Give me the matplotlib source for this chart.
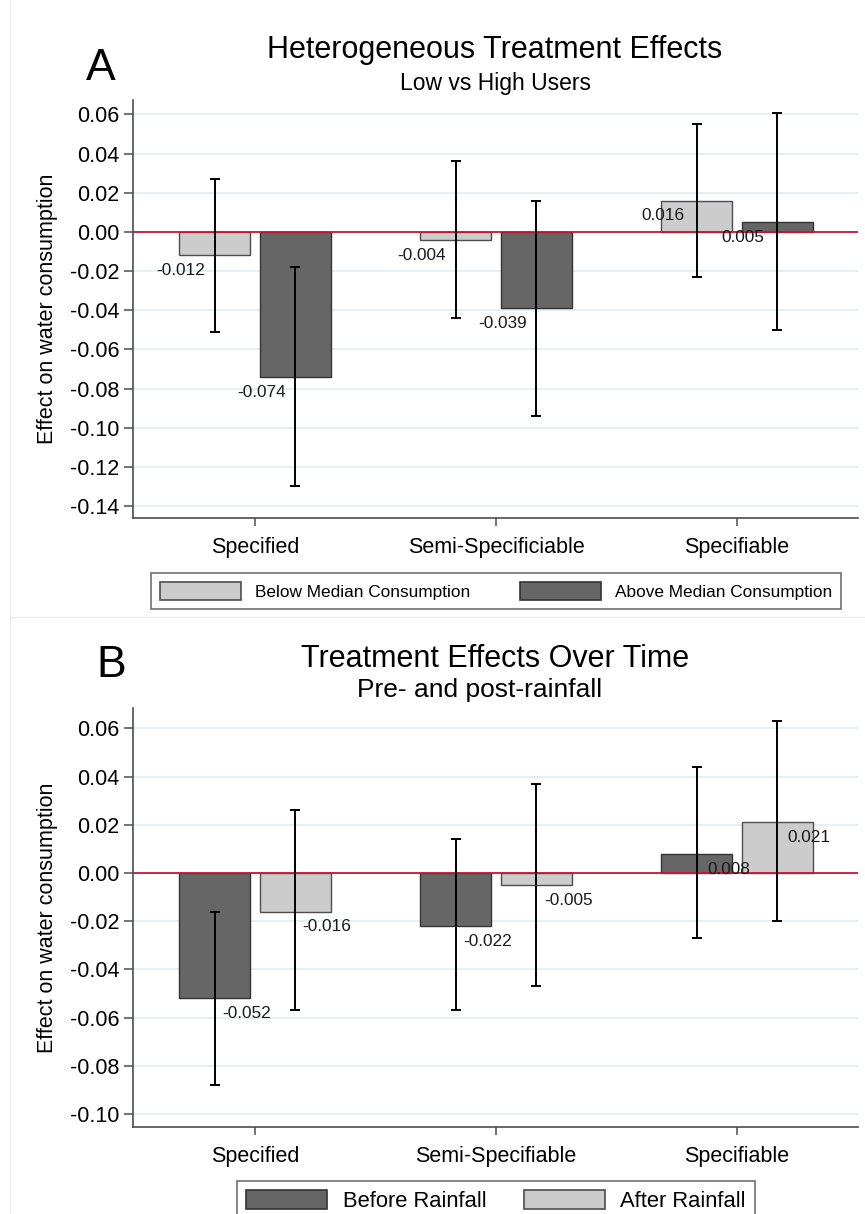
import numpy as np
import matplotlib
matplotlib.use('Agg')
import matplotlib.pyplot as plt
from matplotlib.lines import Line2D

plt.rcParams['font.family'] = ['Liberation Sans', 'DejaVu Sans']

# Panel A data: low vs high users
cats_a = ['Specified', 'Semi-Specificiable', 'Specifiable']
below_median = [-0.012, -0.004, 0.016]
below_lo = [-0.051, -0.044, -0.023]
below_hi = [0.027, 0.036, 0.055]
above_median = [-0.074, -0.039, 0.005]
above_lo = [-0.130, -0.094, -0.050]
above_hi = [-0.018, 0.016, 0.061]

# Panel B data: pre/post rainfall
cats_b = ['Specified', 'Semi-Specifiable', 'Specifiable']
before_rain = [-0.052, -0.022, 0.008]
before_lo = [-0.088, -0.057, -0.027]
before_hi = [-0.016, 0.014, 0.044]
after_rain = [-0.016, -0.005, 0.021]
after_lo = [-0.057, -0.047, -0.020]
after_hi = [0.026, 0.037, 0.063]

LIGHT, LIGHT_EDGE = '#cccccc', '#4d4d4d'
DARK, DARK_EDGE = '#666666', '#333333'
W, H = 865, 1214


def fx(px):
    return px / W


def fy(py):
    return 1 - py / H


fig = plt.figure(figsize=(W / 100, H / 100), dpi=100)

# faint graph-region borders (Stata style)
for seg in [([fx(10), fx(10)], [0, 1]), ([fx(10), 1], [fy(617), fy(617)])]:
    fig.add_artist(Line2D(seg[0], seg[1], color='#ececec', lw=1, transform=fig.transFigure))

axA = fig.add_axes([fx(133), fy(518), 725 / W, 418 / H])
axB = fig.add_axes([fx(133), fy(1127), 725 / W, 419 / H])


def draw_panel(ax, cats, v1, lo1, hi1, v2, lo2, hi2, c1, c2, ylim, yticks, lab_dx):
    x = np.arange(len(cats))
    off, w = 0.167, 0.295
    for xs, v, lo, hi, (fc, ec) in [(x - off, v1, lo1, hi1, c1), (x + off, v2, lo2, hi2, c2)]:
        v = np.array(v)
        ax.bar(xs, v, width=w, color=fc, edgecolor=ec, linewidth=1.0, zorder=2)
        ax.errorbar(xs, v, yerr=[v - np.array(lo), np.array(hi) - v], fmt='none',
                    ecolor='black', elinewidth=1.4, capsize=3.4, capthick=1.4, zorder=4)
        for xi, vi in zip(xs, v):
            ax.annotate(f'{vi:.3f}', xy=(xi, vi), xytext=(lab_dx, -11), textcoords='offset points',
                        ha='center', va='center', fontsize=12.4, color='#1a1a1a', zorder=5)
    ax.axhline(0, color='#c8143c', lw=1.3, zorder=3)
    ax.set_xlim(-0.506, 2.502)
    ax.set_ylim(*ylim)
    ax.set_yticks(yticks)
    ax.set_yticklabels([f'{t:.2f}' for t in yticks])
    ax.set_xticks(x)
    ax.set_xticklabels(cats)
    ax.grid(axis='y', color='#e6eef1', lw=1.3, zorder=0)
    ax.set_axisbelow(True)
    for s in ['top', 'right']:
        ax.spines[s].set_visible(False)
    for s in ['left', 'bottom']:
        ax.spines[s].set_color('#4d4d4d')
        ax.spines[s].set_linewidth(1.2)
    ax.tick_params(axis='y', direction='out', length=6.5, width=1.1, color='#4d4d4d',
                   labelsize=15.5, pad=3.5)
    ax.tick_params(axis='x', direction='out', length=6, width=1.1, color='#4d4d4d',
                   labelsize=15.5, pad=8)
    ax.set_ylabel('Effect on water consumption', fontsize=15.5)
    ax.yaxis.set_label_coords(-0.104, 0.5)


yt_a = np.round(np.arange(-0.14, 0.0601, 0.02), 2) + 0.0
draw_panel(axA, cats_a, below_median, below_lo, below_hi, above_median, above_lo, above_hi,
           (LIGHT, LIGHT_EDGE), (DARK, DARK_EDGE), (-0.1461, 0.0674), yt_a, -24.5)

yt_b = np.round(np.arange(-0.10, 0.0601, 0.02), 2) + 0.0
draw_panel(axB, cats_b, before_rain, before_lo, before_hi, after_rain, after_lo, after_hi,
           (DARK, DARK_EDGE), (LIGHT, LIGHT_EDGE), (-0.1054, 0.0685), yt_b, 23)

# legends
hA = [plt.Rectangle((0, 0), 1, 1, fc=LIGHT, ec=LIGHT_EDGE, lw=1.2),
      plt.Rectangle((0, 0), 1, 1, fc=DARK, ec=DARK_EDGE, lw=1.2)]
legA = fig.legend(hA, ['Below Median Consumption', 'Above Median Consumption'], ncol=2,
                  loc='upper center', bbox_to_anchor=(fx(496), fy(573)), fontsize=12.4,
                  frameon=True, fancybox=False, edgecolor='#4d4d4d', handlelength=4.7,
                  handleheight=1.15, handletextpad=0.8, columnspacing=2.9, borderpad=0.55,
                  borderaxespad=0)
legA.get_frame().set_linewidth(1.2)

hB = [plt.Rectangle((0, 0), 1, 1, fc=DARK, ec=DARK_EDGE, lw=1.2),
      plt.Rectangle((0, 0), 1, 1, fc=LIGHT, ec=LIGHT_EDGE, lw=1.2)]
legB = fig.legend(hB, ['Before Rainfall', 'After Rainfall'], ncol=2,
                  loc='upper center', bbox_to_anchor=(fx(496), fy(1181)), fontsize=15.8,
                  frameon=True, fancybox=False, edgecolor='#4d4d4d', handlelength=3.7,
                  handleheight=1.0, handletextpad=0.7, columnspacing=1.7, borderpad=0.4,
                  borderaxespad=0)
legB.get_frame().set_linewidth(1.2)

# titles and panel letters
fig.text(fx(495), fy(58), 'Heterogeneous Treatment Effects', ha='center', va='baseline', fontsize=22)
fig.text(fx(495), fy(90), 'Low vs High Users', ha='center', va='baseline', fontsize=16.5)
fig.text(fx(495), fy(667), 'Treatment Effects Over Time', ha='center', va='baseline', fontsize=22)
fig.text(fx(480), fy(697), 'Pre- and post-rainfall', ha='center', va='baseline', fontsize=19)
fig.text(fx(101), fy(80), 'A', ha='center', va='baseline', fontsize=32)
fig.text(fx(111), fy(677), 'B', ha='center', va='baseline', fontsize=32)

fig.savefig('out.png', dpi=100)
